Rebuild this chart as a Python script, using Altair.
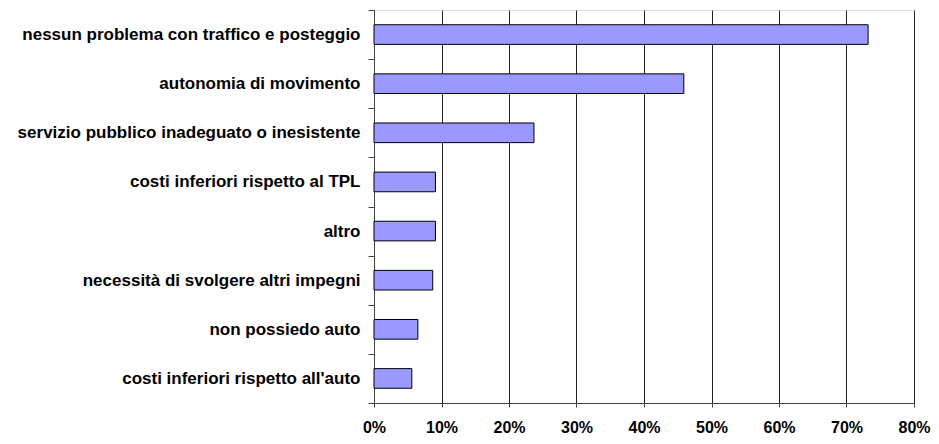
import altair as alt
import pandas as pd

categories = [
    "nessun problema con traffico e posteggio",
    "autonomia di movimento",
    "servizio pubblico inadeguato o inesistente",
    "costi inferiori rispetto al TPL",
    "altro",
    "necessità di svolgere altri impegni",
    "non possiedo auto",
    "costi inferiori rispetto all'auto",
]
values = [0.732, 0.459, 0.237, 0.091, 0.091, 0.087, 0.065, 0.056]
x_ticks = [0, 0.1, 0.2, 0.3, 0.4, 0.5, 0.6, 0.7, 0.8]

df = pd.DataFrame({"cat": categories, "val": values})

FONT = "Liberation Sans"

chart = alt.Chart(df).mark_bar(
    color="#9999FF", stroke="#000000", strokeWidth=1,
    height=alt.RelativeBandSize(0.4),
).encode(
    x=alt.X(
        "val:Q",
        scale=alt.Scale(domain=[0, 0.8], nice=False),
        axis=alt.Axis(
            values=x_ticks, format=".0%", title=None,
            grid=True, gridColor="#222222", gridWidth=1,
            domainColor="#444444", tickColor="#444444", tickSize=4,
            labelFont=FONT, labelFontSize=16, labelFontWeight="bold",
            labelColor="#000000", labelPadding=12, labelFlush=False,
        ),
    ),
    y=alt.Y(
        "cat:N", sort=categories,
        scale=alt.Scale(paddingInner=0, paddingOuter=0),
        axis=alt.Axis(
            title=None, tickBand="extent", tickSize=6,
            domainColor="#444444", tickColor="#444444",
            labelFont=FONT, labelFontSize=17, labelFontWeight="bold",
            labelColor="#000000", labelPadding=8, labelLimit=400,
        ),
    ),
).properties(
    width=540, height=393,
    padding={"left": 366, "top": 2, "right": 17, "bottom": 33},
    autosize=alt.AutoSizeParams(type="none"),
).configure_view(
    stroke="#999999", strokeWidth=1
).configure(background="#ffffff")

chart.save("out.html", embed_options={"renderer": "svg", "actions": False})
